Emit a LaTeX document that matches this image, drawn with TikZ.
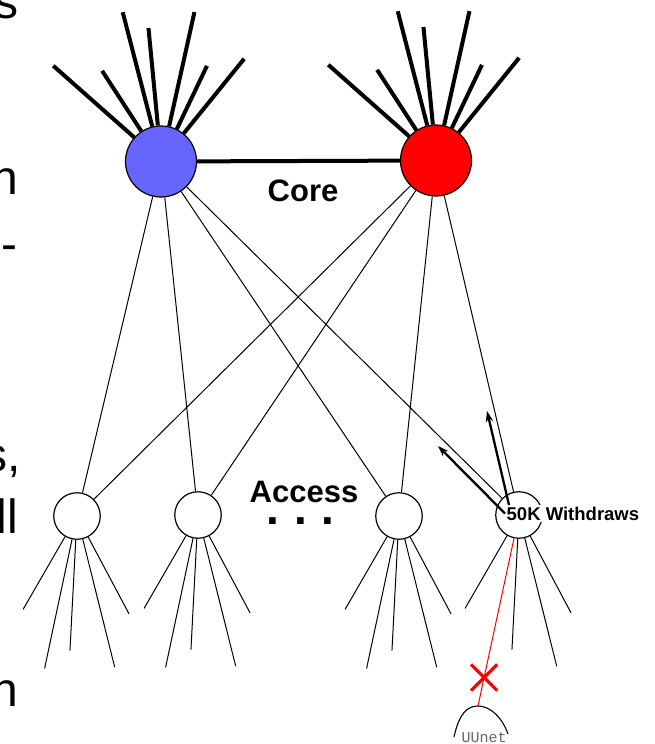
\documentclass[tikz,border=0pt]{standalone}
\usepackage{fontspec}
\setmainfont{Liberation Sans}
\newfontfamily\uufont{Liberation Mono}
\usetikzlibrary{arrows.meta,shapes.misc}
\definecolor{coreblue}{RGB}{102,102,255}

\begin{document}
\begin{tikzpicture}[x=1pt,y=-1pt,
  core/.style={circle,draw,line width=1.2pt,minimum size=71pt,inner sep=0pt},
  acc/.style={circle,draw,line width=1.2pt,fill=white,minimum size=46.5pt,inner sep=0pt},
  spike/.style={line width=4pt},
  link/.style={line width=1pt},
  cut/.style={line width=1pt,red},
  xmark/.style={cross out,draw=red,line width=3.2pt,minimum size=23pt,inner sep=0pt},
  wd/.style={-{Stealth[length=11pt,width=7.5pt]},line width=2.3pt},
  big/.style={font=\fontsize{31}{31}\selectfont\bfseries},
  edge/.style={font=\fontsize{48}{48}\selectfont,inner sep=0pt,anchor=base east}]
\useasboundingbox (0,0) rectangle (654,744);
\clip (0,0) rectangle (654,744);

\path (18.5,19) node[edge] (e1) {s};
\path (18.5,194) node[edge] (e2) {n};
\path (18,260) node[edge] (e3) {-};
\path (21,471) node[edge] (e4) {s,};
\path (18.5,533) node[edge] (e5) {ll};
\path (18.5,706) node[edge] (e6) {n};

\path (161,161.5) node[core,fill=coreblue] (blue) {};
\path (436,160.5) node[core,fill=red] (red) {};
\path (303,190.5) node[big] (core) {Core};

\path (77,516) node[acc] (a1) {};
\path (198,515) node[acc] (a2) {};
\path (399,516) node[acc] (a3) {};
\path (519,515) node[acc] (a4) {};
\path (304,492) node[big] (access) {Access};
\path (300.5,524) node[anchor=base,inner sep=0pt,font=\fontsize{46}{46}\selectfont\bfseries] (dots) {.\hspace{14.7pt}.\hspace{14.7pt}.};

\draw[spike] (blue) -- (red);
\draw[spike] (blue.138.5) -- +(138.5:108pt) (blue.123) -- +(123:72pt)
  (blue.104.5) -- +(104.5:118pt) (blue.95.5) -- +(95.5:98pt)
  (blue.77.5) -- +(77.5:117pt) (blue.64.5) -- +(64.5:70pt) (blue.51) -- +(51:96pt);
\draw[spike] (red.138.5) -- +(138.5:108pt) (red.123) -- +(123:72pt)
  (red.104.5) -- +(104.5:118pt) (red.95.5) -- +(95.5:98pt)
  (red.77.5) -- +(77.5:117pt) (red.64.5) -- +(64.5:70pt) (red.51) -- +(51:96pt);

\draw[link] (blue) -- (a1);
\draw[link] (blue) -- (a2);
\draw[link] (blue) -- (a3);
\draw[link] (blue) -- (a4);
\draw[link] (red) -- (a1);
\draw[link] (red) -- (a2);
\draw[link] (red) -- (a3);
\draw[link] (red) -- (a4);

\draw[link] (a1.-120) -- +(-120:84pt) (a1.-102) -- +(-102:132pt) (a1.-93) -- +(-93:111pt)
  (a1.-76) -- +(-76:132pt) (a1.-62) -- +(-62:87pt);
\draw[link] (a2.-120) -- +(-120:84pt) (a2.-102) -- +(-102:132pt) (a2.-93) -- +(-93:111pt)
  (a2.-76) -- +(-76:132pt) (a2.-62) -- +(-62:87pt);
\draw[link] (a3.-120) -- +(-120:84pt) (a3.-102) -- +(-102:132pt) (a3.-93) -- +(-93:111pt)
  (a3.-76) -- +(-76:132pt) (a3.-62) -- +(-62:87pt);
\draw[link] (a4.-120) -- +(-120:84pt) (a4.-93) -- +(-93:111pt)
  (a4.-76) -- +(-76:132pt) (a4.-62) -- +(-62:87pt);

\coordinate (uunet) at (478,706);
\draw[cut] (a4) -- node[xmark,pos=.83] (x) {} (uunet);
\draw[line width=1.1pt] (454,737) .. controls (459,714) and (467,706) .. (uunet)
  .. controls (490,706) and (502,717) .. (508,734);
\path (484,742) node[anchor=base,inner sep=0pt,text=black!60,font=\uufont\fontsize{15}{15}\selectfont] (uulabel) {UUnet};

\path (505,513.5) node[anchor=west,fill=white,inner sep=1.5pt,font=\fontsize{18.5}{18.5}\selectfont\bfseries] (wd) {50K Withdraws};
\coordinate (tipA) at (438,446);
\coordinate (tipB) at (487,411);
\draw[wd] (wd.west) -- (tipA);
\draw[wd] ([xshift=4pt]wd.north west) -- (tipB);
\end{tikzpicture}
\end{document}
